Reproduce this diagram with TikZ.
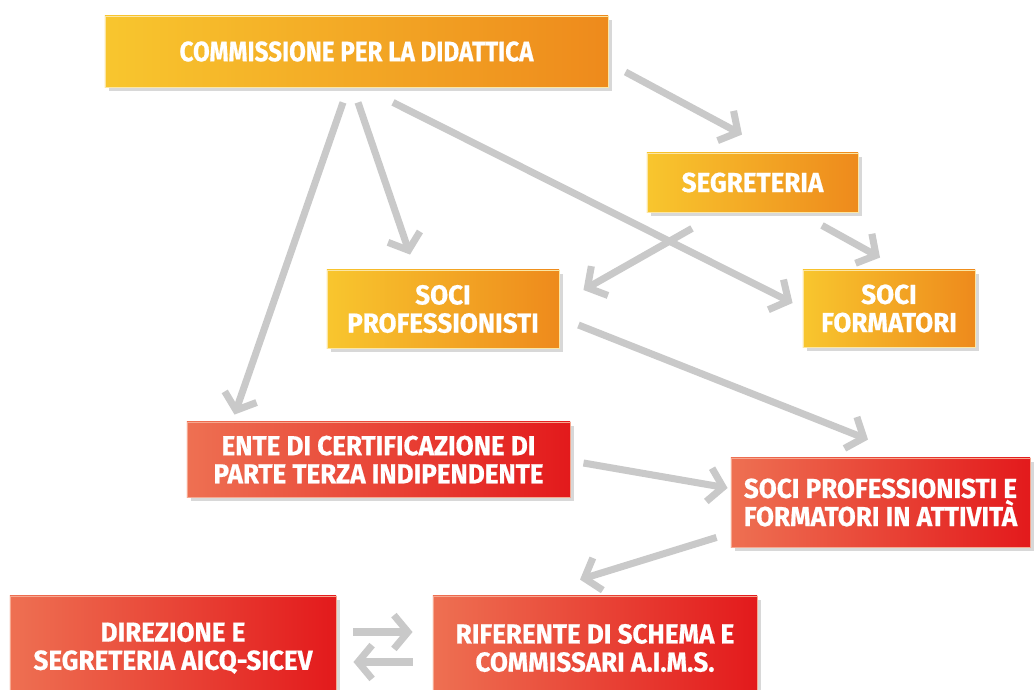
\documentclass[tikz,border=0pt]{standalone}
\usepackage{fontspec}
\setmainfont{Fira Sans}[FakeStretch=0.95,BoldFeatures={FakeBold=0.6}]
\usetikzlibrary{arrows.meta,shadows}

\definecolor{colGiallo}{HTML}{F8C62E}
\definecolor{colArancio}{HTML}{EE8A1C}
\definecolor{colBordoG}{HTML}{FBE6A4}
\definecolor{colSalmone}{HTML}{EE7052}
\definecolor{colRosso}{HTML}{E31A1C}
\definecolor{colBordoR}{HTML}{F6A890}
\definecolor{colGrigio}{HTML}{C9C9C9}

\begin{document}
\begin{tikzpicture}[x=0.025cm,y=-0.025cm]
\path[use as bounding box, fill=white] (0,0) rectangle (1036,689);
\tikzstyle{every node}=[inner sep=0pt, align=center, text=white,
  font=\bfseries\fontsize{19.5}{20}\selectfont,
  drop shadow={opacity=0.3, shadow xshift=3pt, shadow yshift=-3pt}]
\tikzstyle{giallo}=[left color=colGiallo, right color=colArancio, draw=colBordoG, line width=0.6pt]
\tikzstyle{rosso}=[left color=colSalmone, right color=colRosso, draw=colBordoR, line width=0.6pt]
\tikzstyle{freccia}=[draw=colGrigio, line width=5pt, -{Straight Barb[length=10pt,width=24pt]}]
% caselle
\node at (356.5,51.5) [giallo, minimum width=12.575cm, minimum height=1.775cm,
  font=\bfseries\fontsize{20}{20}\selectfont\addfontfeatures{FakeStretch=0.86}] (cpd) {COMMISSIONE PER LA DIDATTICA};
\node at (752.5,182.5) [giallo, minimum width=5.275cm, minimum height=1.475cm] (segr) {SEGRETERIA};
\node at (443,309) [giallo, minimum width=5.8cm, minimum height=1.95cm] (sprof) {SOCI\\PROFESSIONISTI};
\node at (889,308.5) [giallo, minimum width=4.3cm, minimum height=1.925cm] (sform) {SOCI\\FORMATORI};
\node at (378.5,459.5) [rosso, minimum width=9.575cm, minimum height=1.875cm] (ente) {ENTE DI CERTIFICAZIONE DI\\PARTE TERZA INDIPENDENTE};
\node at (880.5,502.5) [rosso, minimum width=7.475cm, minimum height=2.225cm] (spfia) {SOCI PROFESSIONISTI E\\FORMATORI IN ATTIVITÀ};
\node at (173,648) [rosso, minimum width=8.15cm, minimum height=2.6cm] (dir) {DIREZIONE E\\SEGRETERIA AICQ-SICEV};
\node at (595,648) [rosso, minimum width=8.1cm, minimum height=2.6cm] (rif) {RIFERENTE DI SCHEMA E\\COMMISSARI A.I.M.S.};
% frecce
\draw[freccia] ([shift={(17,20.5)}]cpd.east) -- ([shift={(-10.5,-18)}]segr.north);
\draw[freccia] ([shift={(-13.5,15)}]cpd.south) -- ([shift={(48,-7)}]ente.north west);
\draw[freccia] ([shift={(1.5,15)}]cpd.south) -- ([shift={(-33,-15)}]sprof.north);
\draw[freccia] ([shift={(36.5,15)}]cpd.south) -- ([shift={(-10,-5.5)}]sform.west);
\draw[freccia] ([shift={(-60.5,16)}]segr.south) -- ([shift={(24,-19)}]sprof.east);
\draw[freccia] ([shift={(69.5,13)}]segr.south) -- ([shift={(-9,-12)}]sform.north);
\draw[freccia] ([shift={(19,16)}]sprof.east) -- ([shift={(-12.5,-18)}]spfia.north);
\draw[freccia] ([shift={(13,3.5)}]ente.east) -- ([shift={(-3,-14.5)}]spfia.west);
\draw[freccia] ([shift={(-14,-10)}]spfia.south west) -- ([shift={(-15,-16)}]rif.north);
\draw[freccia] ([shift={(17,-16)}]dir.east) -- ([shift={(-20,-16)}]rif.west);
\draw[freccia] ([shift={(-20,14)}]rif.west) -- ([shift={(17,14)}]dir.east);
\end{tikzpicture}
\end{document}
